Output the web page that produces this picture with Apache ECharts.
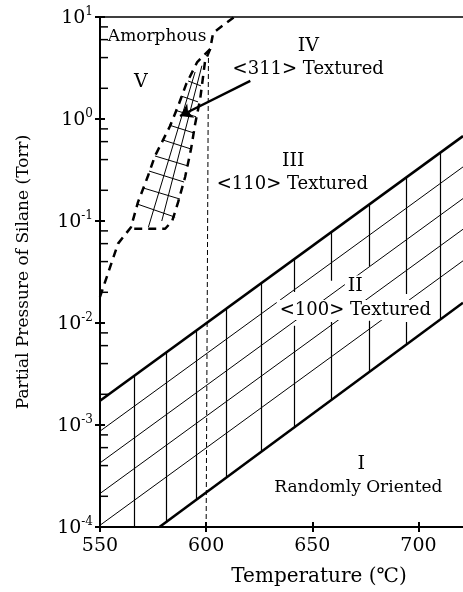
<!DOCTYPE html>
<html>
<head>
<meta charset="utf-8">
<script src="https://cdn.jsdelivr.net/npm/echarts@6/dist/echarts.min.js"></script>
<style>
  html, body { margin: 0; padding: 0; background: #fff; }
  #chart { width: 463px; height: 592px; }
</style>
</head>
<body>
<div id="chart"></div>
<script>
// 字体 -- 原图是拉宽的衬线字体, DejaVu Serif 比较接近
var SERIF = "'DejaVu Serif', 'Liberation Serif', serif";

// 坐标轴
var xMin = 550, xMax = 721;
var xTicks = [550, 600, 650, 700];
var yMin = 1e-4, yMax = 10;
var yMinorTicks = [
  2e-4, 4e-4, 6e-4, 8e-4,
  2e-3, 4e-3, 6e-3, 8e-3,
  0.02, 0.04, 0.06, 0.08,
  0.2, 0.4, 0.6, 0.8,
  2, 4, 6, 8
];

// 区域 II 的上下边界 (粗实线)
var upperBoundary = [[550, 1.73e-3], [721, 0.68]];
var lowerBoundary = [[578, 1e-4], [721, 0.0158]];

// 区域 II 内的细斜线
var hatchDiag1 = [[550, 8.7e-4], [721, 0.339]];
var hatchDiag2 = [[550, 4.25e-4], [721, 0.166]];
var hatchDiag3 = [[550, 2.13e-4], [721, 0.083]];
var hatchDiag4 = [[550, 1.04e-4], [721, 0.0407]];

// 区域 II 内的竖线 [温度, 上端, 下端]
var hatchVerticals = [
  [566.2, 3.05e-3, 1e-4],
  [581.1, 5.13e-3, 1.1e-4],
  [595.3, 8.4e-3, 1.85e-4],
  [609.7, 0.0139, 3.1e-4],
  [625.9, 0.0245, 5.5e-4],
  [641.5, 0.0422, 0.0201],
  [641.5, 9.4e-3, 9.5e-4],
  [658.8, 0.077, 0.026],
  [658.8, 0.0102, 1.75e-3],
  [677.0, 0.146, 0.0362],
  [677.0, 0.0105, 3.35e-3],
  [694.2, 0.265, 0.0192],
  [694.2, 0.0102, 6.15e-3],
  [710.5, 0.469, 0.011]
];

// 非晶边界 (粗虚线) -- 同时是 <311> 区域左边
var amorphousLine = [
  [550, 0.018], [558.5, 0.06], [564.6, 0.087], [567.9, 0.153],
  [572.6, 0.276], [575.9, 0.434], [583.0, 0.853], [586.8, 1.34],
  [590.6, 2.2], [595.8, 3.62], [601.9, 4.85], [603.3, 7.0], [613.2, 10]
];
// <311> 区域右边和底边 (粗虚线)
var region311Edge = [
  [601.9, 4.85], [599.5, 3.7], [597.2, 1.57], [594.8, 0.89],
  [592.9, 0.51], [590.1, 0.27], [586.8, 0.153], [584.0, 0.1],
  [580.7, 0.084], [564.6, 0.084]
];
// <311> 区域内网格 [[T1,P1],[T2,P2]]
var region311Hatch = [
  [[572.8, 0.087], [594.8, 2.89]],
  [[579.1, 0.1], [598.0, 3.33]],
  [[567.4, 0.147], [585.4, 0.109]],
  [[570.3, 0.211], [587.7, 0.164]],
  [[573.1, 0.309], [589.6, 0.241]],
  [[575.9, 0.434], [591.5, 0.346]],
  [[579.7, 0.622], [592.9, 0.508]],
  [[582.5, 0.873], [594.3, 0.729]],
  [[585.4, 1.22], [595.3, 1.05]],
  [[588.2, 1.68], [596.2, 1.47]],
  [[591.5, 2.36], [597.6, 2.11]]
];

// 600 ℃ 竖直虚线
var line600 = [[600, 1e-4], [601.1, 4.7]];
// 箭头
var arrow311 = [[620.8, 2.36], [587.7, 1.07]];

// 文字标注
var labelNames = ['Amorphous', 'V', 'IV', '<311> Textured', 'III', '<110> Textured',
  'II', '<100> Textured', 'I', 'Randomly Oriented'];
var labelPos = [[576.9, 6.5], [569.3, 2.3], [648.1, 5.2], [648.1, 3.09], [641, 0.387],
  [640.6, 0.23], [670.3, 0.0231], [670.3, 0.0134], [673.1, 4.15e-4], [671.7, 2.41e-4]];
var labelSizes = [17, 19, 19, 18, 19, 18, 19, 18, 19, 17];

var myChart = echarts.init(document.getElementById('chart'));

var solid = function (w) { return { color: '#000', width: w, type: 'solid', opacity: 1 }; };
var lineSeries = function (data, style) {
  return {
    type: 'line', data: data, showSymbol: false, symbol: 'none',
    lineStyle: style, silent: true, animation: false, z: 3
  };
};

var option = {
  animation: false,
  backgroundColor: '#fff',
  grid: { left: 100, right: 0, top: 17, bottom: 64, containLabel: false },
  xAxis: [
    {
      type: 'value', min: xMin, max: xMax, interval: 50, position: 'bottom',
      name: 'Temperature (℃)', nameLocation: 'middle', nameGap: 40,
      nameTextStyle: { fontFamily: SERIF, fontSize: 20, color: '#000', padding: [0, 0, 0, 75] },
      axisLine: { lineStyle: { color: '#000', width: 2 } },
      axisTick: { inside: true, length: 5, customValues: xTicks, lineStyle: { color: '#000', width: 2 } },
      axisLabel: {
        fontFamily: SERIF, fontSize: 19, color: '#000', margin: 10,
        customValues: xTicks
      },
      splitLine: { show: false }
    },
    {
      // 顶部边框
      type: 'value', min: xMin, max: xMax, position: 'top',
      axisLine: { lineStyle: { color: '#000', width: 1.5 } },
      axisTick: { show: false }, axisLabel: { show: false }, splitLine: { show: false }
    },
    {
      // 刻度外伸部分
      type: 'value', min: xMin, max: xMax, interval: 50, position: 'bottom',
      axisLine: { show: false },
      axisTick: { inside: false, length: 5, customValues: xTicks, lineStyle: { color: '#000', width: 2 } },
      axisLabel: { show: false }, splitLine: { show: false }
    }
  ],
  yAxis: [
    {
      type: 'log', logBase: 10, min: yMin, max: yMax, splitNumber: 5, position: 'left',
      name: 'Partial Pressure of Silane (Torr)', nameLocation: 'middle', nameGap: 68, nameRotate: 90,
      nameTextStyle: { fontFamily: SERIF, fontSize: 17, color: '#000' },
      axisLine: { lineStyle: { color: '#000', width: 2 } },
      axisTick: { inside: true, length: 5, lineStyle: { color: '#000', width: 2 } },
      axisLabel: {
        margin: 7,
        formatter: function (v) {
          var e = Math.round(Math.log10(v));
          return '{b|10}{s|' + e + '}';
        },
        rich: {
          b: { fontFamily: SERIF, fontSize: 19, color: '#000', lineHeight: 22, verticalAlign: 'bottom' },
          s: { fontFamily: SERIF, fontSize: 12, color: '#000', lineHeight: 22, verticalAlign: 'top' }
        }
      },
      splitLine: { show: false }
    },
    {
      type: 'log', logBase: 10, min: yMin, max: yMax, splitNumber: 5, position: 'left',
      axisLine: { show: false },
      axisTick: { inside: false, length: 5, lineStyle: { color: '#000', width: 2 } },
      axisLabel: { show: false }, splitLine: { show: false }
    }
  ],
  series: [
    // 区域 II 的粗边界
    lineSeries(upperBoundary, solid(2.6)),
    lineSeries(lowerBoundary, solid(2.6)),
    // 细斜线
    lineSeries(hatchDiag1, solid(1)),
    lineSeries(hatchDiag2, solid(1)),
    lineSeries(hatchDiag3, solid(1)),
    lineSeries(hatchDiag4, solid(1)),
    {
      type: 'lines', coordinateSystem: 'cartesian2d', silent: true, z: 3,
      lineStyle: { color: '#000', width: 1.2, opacity: 1 },
      data: hatchVerticals.map(function (d) { return { coords: [[d[0], d[1]], [d[0], d[2]]] }; })
    },
    // 非晶区 / <311> 区
    lineSeries(amorphousLine, { color: '#000', width: 2.5, type: [8, 6], opacity: 1 }),
    lineSeries(region311Edge, { color: '#000', width: 2.5, type: [8, 6], opacity: 1 }),
    {
      type: 'lines', coordinateSystem: 'cartesian2d', silent: true, z: 3,
      lineStyle: { color: '#000', width: 1, opacity: 1 },
      data: region311Hatch.map(function (c) { return { coords: c }; })
    },
    lineSeries(line600, { color: '#000', width: 1, type: [5, 3], opacity: 1 }),
    {
      type: 'lines', coordinateSystem: 'cartesian2d', silent: true, z: 4,
      symbol: ['none', 'arrow'], symbolSize: 12,
      lineStyle: { color: '#000', width: 2.5, opacity: 1 },
      data: [{ coords: arrow311 }]
    },
    // y 轴次刻度
    {
      type: 'scatter', silent: true, clip: false, z: 6,
      symbol: 'rect', symbolSize: [8, 1.5], symbolOffset: [4, 0],
      itemStyle: { color: '#000', opacity: 1 },
      data: yMinorTicks.map(function (v) { return [xMin, v]; })
    },
    // 文字
    {
      type: 'scatter', silent: true, z: 10, symbolSize: 0,
      itemStyle: { opacity: 1 },
      data: labelNames.map(function (n, i) {
        var boxed = (n === 'II' || n === '<100> Textured');
        return {
          name: n, value: labelPos[i],
          label: {
            show: true, position: 'inside', formatter: '{b}',
            fontFamily: SERIF, fontSize: labelSizes[i], color: '#000',
            textBorderWidth: 0, textBorderColor: 'transparent',
            backgroundColor: boxed ? '#fff' : 'transparent',
            padding: boxed ? [1, 3] : 0
          }
        };
      })
    }
  ]
};

myChart.setOption(option);
window.addEventListener('resize', function () { myChart.resize(); });
</script>
</body>
</html>
